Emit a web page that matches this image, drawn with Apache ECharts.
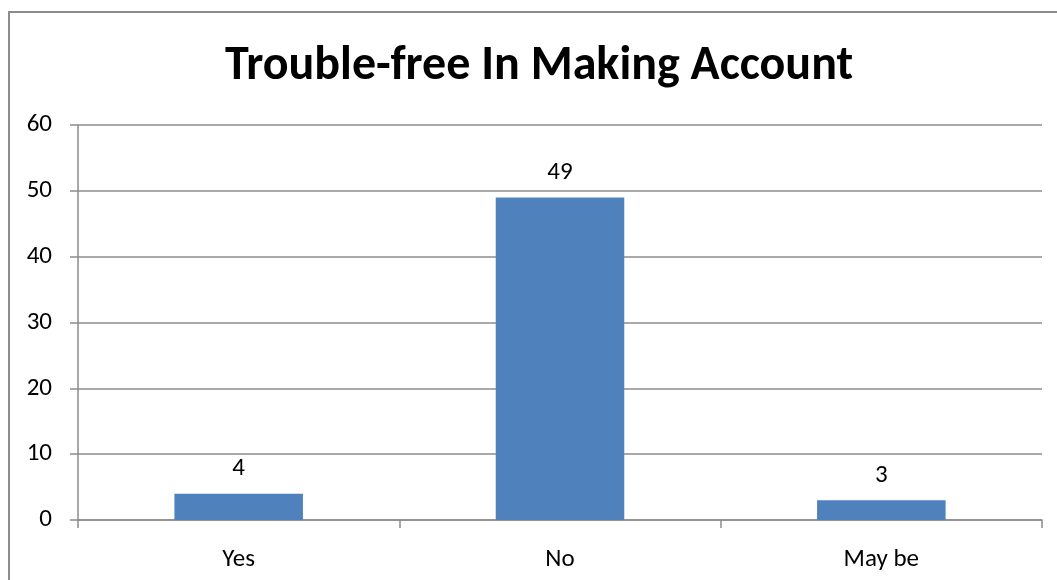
<!DOCTYPE html>
<html><head><meta charset="utf-8">
<script src="https://cdn.jsdelivr.net/npm/echarts@6/dist/echarts.min.js"></script>
<style>html,body{margin:0;padding:0;background:#fff}#c{width:1057px;height:580px}</style>
</head><body><div id="c"></div>
<script>
const title = "Trouble-free In Making Account";
const categories = ["Yes", "No", "May be"];
const values = [4, 49, 3];
const yMin = 0, yMax = 60, yInterval = 10;

const chart = echarts.init(document.getElementById('c'), null, {renderer: 'canvas'});
const font = "Carlito, 'Open Sans', 'Liberation Sans', sans-serif";
chart.setOption({
  animation: false,
  backgroundColor: '#fff',
  title: {
    text: title, left: 225, top: 43, padding: 0,
    textStyle: {fontFamily: font, fontSize: 48, fontWeight: 'bold', color: '#000'}
  },
  graphic: [{
    type: 'rect', shape: {x: 9, y: 12, width: 1200, height: 700},
    style: {fill: 'none', stroke: '#8c8c8c', lineWidth: 2}, silent: true
  }],
  grid: {left: 78, right: 15, top: 125, bottom: 60},
  xAxis: {
    type: 'category', data: categories,
    axisLine: {lineStyle: {color: '#8c8c8c', width: 1.5}},
    axisTick: {show: true, length: 8, lineStyle: {color: '#8c8c8c', width: 1.5}},
    axisLabel: {margin: 27, fontFamily: font, fontSize: 25, color: '#000'}
  },
  yAxis: {
    type: 'value', min: yMin, max: yMax, interval: yInterval,
    axisLine: {show: true, lineStyle: {color: '#8c8c8c', width: 1.5}},
    axisTick: {show: true, length: 8, lineStyle: {color: '#8c8c8c', width: 1.5}},
    splitLine: {lineStyle: {color: '#8c8c8c', width: 1.5}},
    axisLabel: {margin: 26, fontFamily: font, fontSize: 25, color: '#000'}
  },
  series: [{
    type: 'bar', data: values, barWidth: '40%',
    itemStyle: {color: '#4F81BD'},
    label: {show: true, position: 'top', distance: 12, fontFamily: font, fontSize: 25, color: '#000'}
  }]
});
</script></body></html>
